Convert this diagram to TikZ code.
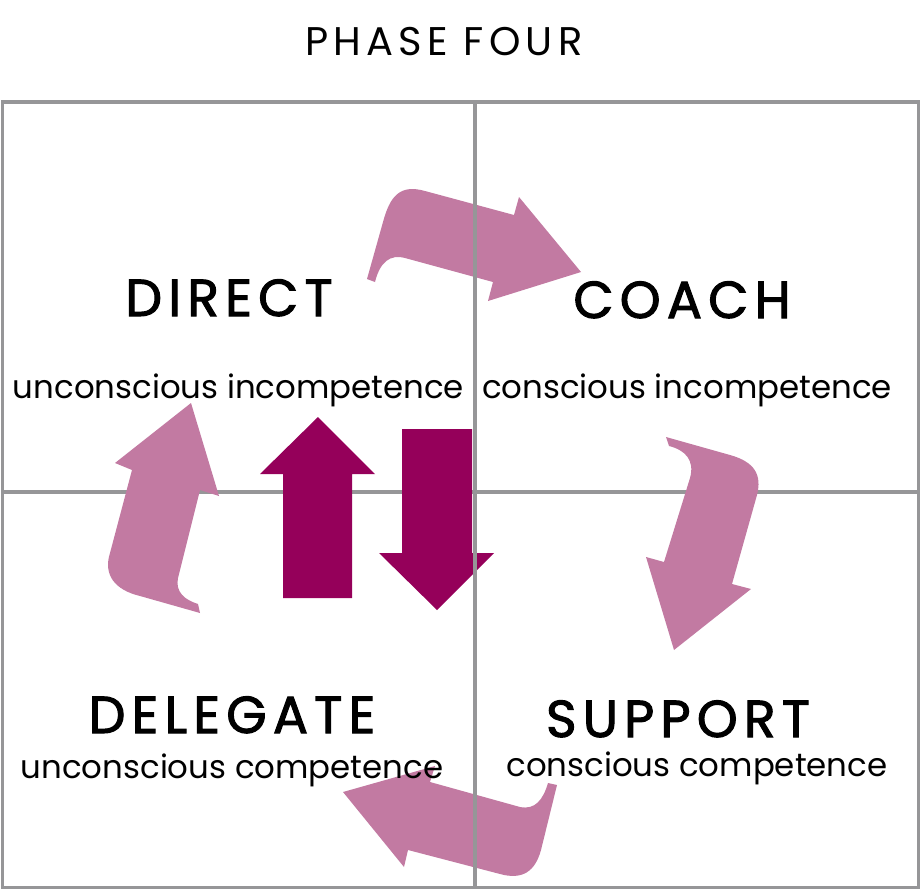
\documentclass[tikz,border=0pt]{standalone}
\usepackage{fontspec}
\setmainfont{Poppins}
\definecolor{pinkarrow}{RGB}{194,122,162}
\definecolor{darkarrow}{RGB}{149,0,90}
\definecolor{gridgray}{RGB}{150,150,152}
\newfontfamily\titlefont[LetterSpace=12,FakeBold=2]{Poppins}
\newfontfamily\phasefont[LetterSpace=13]{Poppins}
\newfontfamily\subfont{Poppins}
\begin{document}
\begin{tikzpicture}[x=1pt,y=-1pt,
  gridline/.style={draw=gridgray,line width=3.5pt},
  curvedarrow/.style={fill=pinkarrow,draw=none},
  straightarrow/.style={fill=darkarrow,draw=none},
  title/.style={anchor=base,inner sep=0pt,font=\titlefont\fontsize{52}{60}\selectfont},
  subtitle/.style={anchor=base,inner sep=0pt,font=\subfont\fontsize{32.4}{36}\selectfont},
  phase/.style={anchor=base,inner sep=0pt,font=\phasefont\fontsize{40}{44}\selectfont}]
\useasboundingbox (0,0) rectangle (921,891);
% grid
\draw[gridline] (2.5,102) rectangle (918.5,887.5);
\draw[gridline] (2.5,492) -- (918.5,492);
% curved arrows
\path[curvedarrow] (367,279) -- (383,222) .. controls (390,196) and (400,184) .. (425,191) -- (514,215) -- (519,197) -- (581,272) -- (488,301) -- (493,282) -- (405,258) .. controls (390,254) and (380,262) .. (375,282) -- cycle;
\path[curvedarrow] (666,437) -- (730,455) .. controls (755,462) and (762,475) .. (757,495) -- (732,584) -- (751,589) -- (674,650) -- (646,557) -- (664,562) -- (690,478) .. controls (695,460) and (685,450) .. (669,446) -- cycle;
\path[curvedarrow] (557,785) -- (541,850) .. controls (535,872) and (522,880) .. (500,874) -- (408,850) -- (404,867) -- (343,792) -- (435,766) -- (430,782) -- (520,807) .. controls (535,810) and (543,800) .. (548,783) -- cycle;
\path[curvedarrow] (200,613) -- (140,596) .. controls (115,590) and (103,575) .. (110,553) -- (132,470) -- (115,463) -- (191,403) -- (219,496) -- (200,490) -- (178,578) .. controls (175,592) and (185,600) .. (198,604) -- cycle;
% straight arrows
\path[straightarrow] (283,598) -- (283,474) -- (260,474) -- (318,417) -- (375,474) -- (352,474) -- (352,598) -- cycle;
\path[straightarrow] (402,429) -- (472,429) -- (472,553) -- (494,553) -- (437,610) -- (379,553) -- (402,553) -- cycle;
% vertical line on top
\draw[gridline] (475,102) -- (475,887.5);
% texts
\node[phase] (phase) at (444,56) {PHASE FOUR};
\node[title] (direct) at (229,316) {DIRECT};
\node[title] (coach) at (682,318) {COACH};
\node[title] (delegate) at (232,733) {DELEGATE};
\node[title] (support) at (678,737) {SUPPORT};
\node[subtitle] (ui) at (238.5,398) {unconscious incompetence};
\node[subtitle] (ci) at (687,398) {conscious incompetence};
\node[subtitle] (uc) at (232,778) {unconscious competence};
\node[subtitle] (cc) at (697,776) {conscious competence};
\end{tikzpicture}
\end{document}
